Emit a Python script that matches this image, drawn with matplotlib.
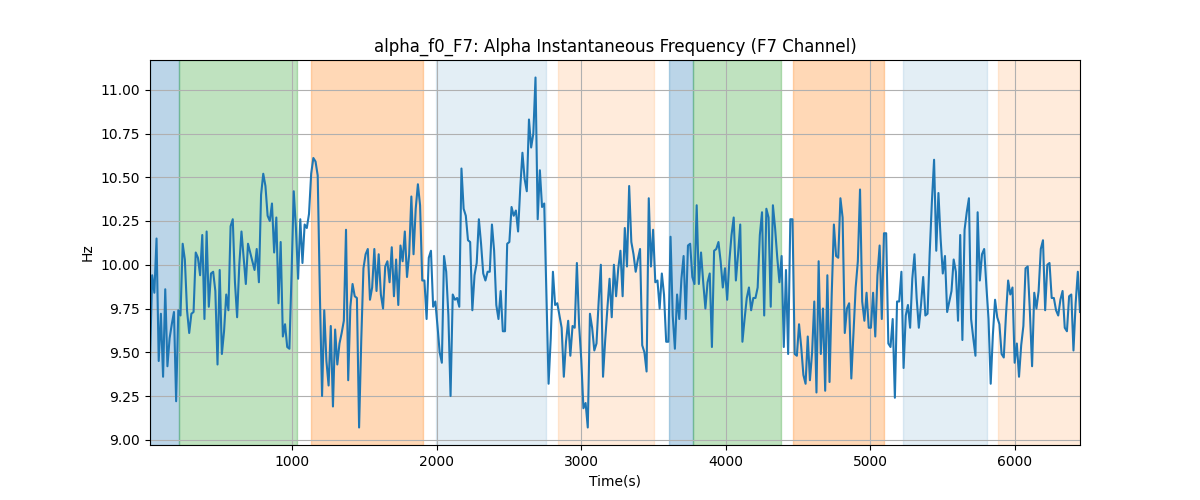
# plot.py - alpha instantaneous frequency on channel F7 with segment shading

import numpy as np
import matplotlib
matplotlib.use("Agg")
import matplotlib.pyplot as plt


# ============================================================
# Data
# ============================================================
t_start = 18
t_end = 6450

hz = [
    9.46, 9.94, 9.84, 10.15, 9.45, 9.72, 9.36, 9.86, 9.42, 9.58, 9.66, 9.73, 9.22,
    9.74, 9.71, 10.12, 10.03, 9.74, 9.61, 9.72, 9.73, 10.07, 10.04, 9.94, 10.17,
    9.69, 10.19, 9.76, 9.95, 9.96, 9.85, 9.43, 9.97, 9.49, 9.62, 9.83, 9.74, 10.22,
    10.26, 9.90, 9.70, 10.00, 10.19, 10.04, 9.89, 10.12, 10.07, 10.02, 9.97, 10.09,
    9.90, 10.40, 10.52, 10.45, 10.28, 10.25, 10.35, 10.07, 10.27, 9.78, 10.13, 9.59,
    9.66, 9.53, 9.52, 9.95, 10.42, 10.21, 9.92, 10.26, 10.01, 10.23, 10.21, 10.29,
    10.52, 10.61,
    10.59, 10.51, 9.83, 9.25, 9.74, 9.45, 9.31, 9.65, 9.19, 9.63, 9.43, 9.55, 9.61,
    9.68, 10.20, 9.34, 9.76, 9.89, 9.82, 9.81, 9.07, 9.57, 9.98, 10.06, 10.09, 9.80,
    9.87, 10.09, 9.85, 10.06, 9.83, 9.75, 9.99, 10.02, 9.90, 10.10, 9.82, 10.03, 9.77,
    10.11, 10.02, 10.19, 9.93, 10.06, 10.39, 10.06, 10.32, 10.46, 10.34, 9.91, 9.91,
    9.69, 10.04, 10.08, 9.76, 9.79, 9.65, 9.50, 9.44, 10.05, 9.96, 9.71, 9.25, 9.83,
    9.80, 9.81, 9.76, 10.55, 10.32, 10.28, 10.14, 10.13, 9.74, 9.94, 10.01, 10.26,
    10.12, 9.95,
    9.91, 9.96, 9.96, 10.23, 10.08, 9.77, 9.69, 9.85, 9.62, 9.62, 10.12, 10.13, 10.33,
    10.28, 10.31, 10.19, 10.44, 10.64, 10.49, 10.42, 10.83, 10.67, 10.75, 11.07,
    10.26, 10.54, 10.33, 10.35, 9.83, 9.32, 9.58, 9.96, 9.77, 9.78, 9.71, 9.64, 9.36,
    9.56,
    9.68, 9.48, 9.65, 9.64, 10.01, 9.66, 9.46, 9.18, 9.21, 9.07, 9.72, 9.64, 9.51,
    9.55, 9.79, 10.00, 9.36, 9.57, 9.75, 9.92, 9.70, 10.00, 9.82, 9.98, 10.08, 9.82,
    10.21, 9.99, 10.45, 10.13, 10.06, 9.96, 10.03, 10.09, 9.54, 9.50, 9.39, 10.38,
    9.99,
    10.20, 9.90, 9.91, 9.75, 9.95, 9.83, 9.56, 9.56, 10.16, 9.71, 9.52, 9.83, 9.69,
    9.92, 10.05, 9.69, 10.11, 10.12, 9.93, 9.89, 10.34, 9.89, 10.07, 9.90, 9.75, 9.90,
    9.95, 9.53, 10.08, 10.09, 10.13, 10.02, 9.87, 9.98, 9.80, 10.02, 10.17, 10.27,
    9.91,
    10.06, 10.23, 9.56, 9.69, 9.81, 9.87, 9.74, 9.81, 9.81, 9.87, 10.17, 10.30, 9.71,
    10.32, 10.27, 9.76, 10.34, 10.21, 10.04, 9.90, 10.05, 9.53, 9.97, 9.49, 10.26,
    10.26, 9.49, 9.48, 9.66, 9.53, 9.37, 9.32, 9.59, 9.34, 9.50, 9.79, 9.27, 10.02,
    9.49,
    9.75, 9.28, 9.94, 9.33, 9.83, 10.23, 10.05, 10.04, 10.38, 10.27, 9.61, 9.75, 9.78,
    9.35, 9.61, 9.87, 10.02, 10.43, 9.79, 9.68, 9.84, 9.64, 9.64, 9.84, 9.59, 9.94,
    10.11, 9.69, 10.18, 10.18, 9.55, 9.53, 9.69, 9.24, 9.79, 9.79, 9.96, 9.41, 9.71,
    9.77, 9.64, 9.92, 10.06, 9.81, 9.64, 9.77, 9.93, 9.71, 9.72, 10.07, 10.36, 10.60,
    10.08, 10.41, 10.15, 9.95, 10.05, 9.73, 9.79, 9.85, 10.03, 9.96, 9.68, 10.17,
    9.57, 10.20, 10.30, 10.38, 9.69, 9.58, 9.48, 10.30, 9.91, 10.06, 10.09, 9.88,
    9.69, 9.32, 9.60, 9.80, 9.70, 9.66, 9.49, 9.47, 9.71, 9.91, 9.83, 9.87, 9.44,
    9.55, 9.36, 9.54, 9.65, 9.98, 9.99, 9.73, 9.42, 9.84, 9.75, 9.85, 10.09, 10.14,
    9.74, 10.00, 10.01, 9.81, 9.81, 9.74, 9.71, 9.80, 9.85, 9.64, 9.62, 9.82, 9.83,
    9.51, 9.78, 9.96, 9.73,
]

# shaded segments: (start, end) in seconds
span_start = [18, 218, 1131, 1996, 2840, 3608, 3774, 4466, 5226, 5883]
span_end = [218, 1035, 1906, 2757, 3504, 3774, 4383, 5096, 5807, 6450]
span_color = ["tab:blue", "tab:green", "tab:orange", "tab:blue", "tab:orange",
              "tab:blue", "tab:green", "tab:orange", "tab:blue", "tab:orange"]
span_alpha = [0.3, 0.3, 0.3, 0.12, 0.15, 0.3, 0.3, 0.3, 0.12, 0.15]

time_s = np.linspace(t_start, t_end, len(hz))


# ============================================================
# Plot
# ============================================================
fig, ax = plt.subplots(figsize=(12, 5), dpi=100)

for s, e, c, a in zip(span_start, span_end, span_color, span_alpha):
    ax.axvspan(s, e, color=c, alpha=a)

ax.plot(time_s, hz, color="tab:blue")

ax.set_xlim(t_start, t_end)
ax.set_title("alpha_f0_F7: Alpha Instantaneous Frequency (F7 Channel)")
ax.set_xlabel("Time(s)")
ax.set_ylabel("Hz")
ax.grid(True)

fig.savefig("out.png", dpi=100)
print("Saved: out.png")
